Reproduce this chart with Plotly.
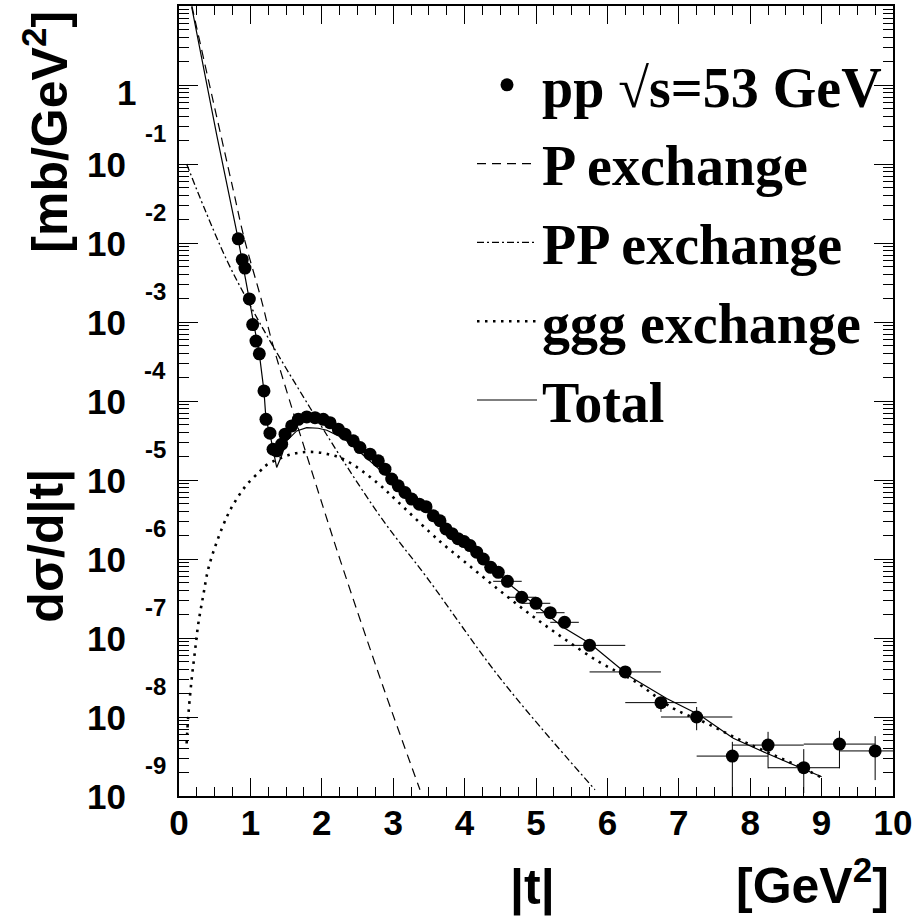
import plotly.graph_objects as go

# ---------------- data ----------------
t_data = [0.83, 0.886, 0.924, 0.985, 1.032, 1.078, 1.125, 1.19, 1.218, 1.274, 1.317, 1.368,
          1.438, 1.485, 1.578, 1.671, 1.789, 1.905, 2.021, 2.115, 2.231, 2.325, 2.441, 2.535,
          2.675, 2.791, 2.885, 2.979, 3.071, 3.165, 3.259, 3.366, 3.459, 3.562, 3.655, 3.739,
          3.824, 3.908, 3.992, 4.076, 4.169, 4.262, 4.366, 4.472, 4.6, 4.8, 5.0, 5.2, 5.4,
          5.75, 6.25, 6.75, 7.25, 7.75, 8.25, 8.75, 9.25, 9.75]
dsdt_data = [1.13e-2, 6.15e-3, 4.82e-3, 1.96e-3, 9.29e-4, 5.73e-4, 3.95e-4, 1.34e-4, 5.87e-5,
             3.91e-5, 2.45e-5, 2.34e-5, 2.84e-5, 3.8e-5, 4.83e-5, 5.87e-5, 6.28e-5, 6.15e-5,
             5.87e-5, 5.32e-5, 4.4e-5, 3.8e-5, 3.13e-5, 2.57e-5, 2.12e-5, 1.75e-5, 1.37e-5,
             1.03e-5, 8.45e-6, 6.95e-6, 5.74e-6, 4.95e-6, 4.59e-6, 3.53e-6, 3.05e-6, 2.4e-6,
             2.09e-6, 1.81e-6, 1.66e-6, 1.48e-6, 1.22e-6, 1.0e-6, 7.85e-7, 6.79e-7, 5.22e-7,
             3.28e-7, 2.75e-7, 2.09e-7, 1.58e-7, 8.07e-8, 3.72e-8, 1.52e-8, 1.0e-8, 3.2e-9,
             4.41e-9, 2.28e-9, 4.54e-9, 3.72e-9]
t_err = [0.0] * 44 + [0.2] * 5 + [0.5] * 9
# upper / lower bounds of the vertical error bars of the last 8 points
tail_hi = [4.37e-8, 1.79e-8, 1.34e-8, 4.85e-9, 6.49e-9, 3.92e-9, 6.68e-9, 5.73e-9]
tail_lo = [3.16e-8, 1.16e-8, 6.8e-9, 5.0e-10, 2.24e-9, 1.09e-9, 2.24e-9, 1.59e-9]

t_P = [0.18, 0.48, 0.76, 0.915, 1.15, 1.30, 1.58, 1.74, 2.02, 2.26, 2.86, 3.375]
y_P = [10.0, 0.617, 0.0468, 0.0113, 1.96e-3, 5.73e-4, 8.22e-5, 2.84e-5, 4.5e-6, 9.55e-7,
       2.4e-8, 1.2e-9]

t_PP = [0.107, 0.364, 0.677, 0.948, 1.275, 1.835, 2.30, 2.861, 3.469, 4.52, 5.826]
y_PP = [0.1, 2.63e-2, 5.86e-3, 1.96e-3, 5.73e-4, 8.22e-5, 1.75e-5, 3.05e-6, 5.87e-7,
        2.92e-8, 1.2e-9]

t_ggg = [0.107, 0.13, 0.178, 0.224, 0.27, 0.34, 0.41, 0.528, 0.677, 0.798, 0.948, 1.134,
         1.228, 1.578, 1.835, 2.09, 2.349, 2.769, 3.05, 3.515, 3.749, 3.98, 4.45, 4.916,
         5.38, 5.896, 6.36, 6.92, 7.39, 7.857, 8.323, 8.697, 8.98]
y_ggg = [4.62e-9, 1.03e-8, 3.06e-8, 6.84e-8, 1.51e-7, 3.47e-7, 7.5e-7, 1.63e-6, 3.53e-6,
         5.57e-6, 8.71e-6, 1.29e-5, 1.55e-5, 2.12e-5, 2.27e-5, 2.12e-5, 1.75e-5, 9.33e-6,
         5.46e-6, 2.17e-6, 1.41e-6, 9.55e-7, 4.27e-7, 2.0e-7, 1.0e-7, 4.9e-8, 2.92e-8,
         1.29e-8, 8.32e-9, 5.13e-9, 3.31e-9, 2.34e-9, 1.75e-9]

t_tot = [0.178, 0.528, 0.817, 0.985, 1.125, 1.19, 1.218, 1.274, 1.335, 1.368, 1.438, 1.508,
         1.648, 1.789, 1.95, 2.07, 2.3, 2.5, 3.0, 3.5, 4.0, 4.5, 4.68, 5.38, 5.756, 6.32,
         6.83, 7.297, 7.763, 8.23, 9.0]
y_tot = [9.7, 0.233, 1.27e-2, 1.96e-3, 3.95e-4, 1.34e-4, 5.87e-5, 3.8e-5, 2.14e-5, 1.44e-5,
         2.04e-5, 3.13e-5, 4.18e-5, 4.6e-5, 4.52e-5, 4.27e-5, 3.39e-5, 2.4e-5, 9.55e-6,
         3.98e-6, 1.55e-6, 6.17e-7, 4.4e-7, 1.37e-7, 8.51e-8, 3.24e-8, 1.71e-8, 1.05e-8,
         5.37e-9, 3.47e-9, 1.75e-9]

legend_names = ["pp \u221as=53 GeV", "P exchange", "PP exchange", "ggg exchange", "Total"]
x_ticks = list(range(0, 11))
y_tick_exps = [-9, -8, -7, -6, -5, -4, -3, -2, -1]

# ---------------- error bar sizes ----------------
n = len(dsdt_data)
err_plus = [0.0] * n
err_minus = [0.0] * n
for k, (hi, lo) in enumerate(zip(tail_hi, tail_lo)):
    i = n - len(tail_hi) + k
    err_plus[i] = hi - dsdt_data[i]
    err_minus[i] = dsdt_data[i] - lo

SANS = "Liberation Sans, Arial, Helvetica, sans-serif"
SERIF = "Liberation Serif, Times New Roman, serif"

fig = go.Figure()
line_w = 1.2
fig.add_trace(go.Scatter(x=t_P, y=y_P, mode="lines", name=legend_names[1],
                         line=dict(color="black", width=line_w, dash="9px,6px", shape="spline"),
                         legendgroup="b", legendrank=2))
fig.add_trace(go.Scatter(x=t_PP, y=y_PP, mode="lines", name=legend_names[2],
                         line=dict(color="black", width=1.3, dash="7px,3px,2px,3px", shape="spline"),
                         legendgroup="c", legendrank=3))
fig.add_trace(go.Scatter(x=t_ggg, y=y_ggg, mode="lines", name=legend_names[3],
                         line=dict(color="black", width=2.6, dash="2.5px,5.5px", shape="spline"),
                         legendgroup="d", legendrank=4))
fig.add_trace(go.Scatter(x=t_tot, y=y_tot, mode="lines", name=legend_names[4],
                         line=dict(color="black", width=line_w),
                         legendgroup="e", legendrank=5))
fig.add_trace(go.Scatter(x=t_data, y=dsdt_data, mode="markers", name=legend_names[0],
                         marker=dict(color="black", size=13, symbol="circle"),
                         error_x=dict(type="data", array=t_err, color="black", thickness=1, width=0),
                         error_y=dict(type="data", symmetric=False, array=err_plus,
                                      arrayminus=err_minus, color="black", thickness=1, width=0),
                         legendgroup="a", legendrank=1))

axis_common = dict(showline=True, linecolor="black", linewidth=2, mirror="allticks",
                   ticks="inside", tickcolor="black", tickwidth=1, showgrid=False,
                   zeroline=False)

fig.update_xaxes(range=[0, 10], tickvals=x_ticks, ticktext=[str(v) for v in x_ticks],
                 ticklen=18, tickfont=dict(family=SANS, size=35, color="black", weight="bold"),
                 ticklabelstandoff=-5,
                 minor=dict(dtick=0.25, ticklen=9, ticks="inside", tickcolor="black", tickwidth=1),
                 **axis_common)
fig.update_yaxes(type="log", range=[-9, 1], dtick=1, ticklen=19, showticklabels=False,
                 minor=dict(dtick="D1", ticklen=10, ticks="inside", tickcolor="black", tickwidth=1),
                 **axis_common)

PLOT_L, PLOT_R, PLOT_T, PLOT_B = 179, 893, 4, 796
W = PLOT_R - PLOT_L
H = PLOT_B - PLOT_T

def px_x(px):
    return (px - PLOT_L) / W

def px_y(py):
    return (PLOT_B - py) / H

annotations = []
for e in y_tick_exps:
    annotations.append(dict(text="10", xref="paper", yref="y", x=px_x(128), y=e,
                            xanchor="right", yanchor="middle", showarrow=False,
                            font=dict(family=SANS, size=35, color="black", weight="bold")))
    annotations.append(dict(text=str(e), xref="paper", yref="y", x=px_x(168), y=e,
                            xanchor="right", yanchor="middle", yshift=31, showarrow=False,
                            font=dict(family=SANS, size=24, color="black", weight="bold")))
annotations.append(dict(text="1", xref="paper", yref="y", x=px_x(138), y=0,
                        xanchor="right", yanchor="middle", yshift=-7, showarrow=False,
                        font=dict(family=SANS, size=35, color="black", weight="bold")))

title_font = dict(family=SANS, size=50, color="black", weight="bold")
annotations += [
    dict(text="[mb/GeV<sup>2</sup>]", xref="paper", yref="paper", x=px_x(46), y=px_y(130),
         textangle=-90, xanchor="center", yanchor="middle", showarrow=False, font=title_font),
    dict(text="d\u03c3/d|t|", xref="paper", yref="paper", x=px_x(47), y=px_y(545),
         textangle=-90, xanchor="center", yanchor="middle", showarrow=False, font=title_font),
    dict(text="|t|", xref="paper", yref="paper", x=px_x(532), y=px_y(888),
         xanchor="center", yanchor="middle", showarrow=False, font=title_font),
    dict(text="[GeV<sup>2</sup>]", xref="paper", yref="paper", x=px_x(891), y=px_y(882),
         xanchor="right", yanchor="middle", showarrow=False, font=title_font),
]

fig.update_layout(
    width=917, height=920,
    margin=dict(l=PLOT_L, r=917 - PLOT_R, t=PLOT_T, b=920 - PLOT_B),
    paper_bgcolor="white", plot_bgcolor="white",
    showlegend=True,
    legend=dict(x=px_x(472), y=px_y(40), xanchor="left", yanchor="top",
                bgcolor="rgba(0,0,0,0)", borderwidth=0, traceorder="grouped",
                tracegroupgap=3, itemwidth=60,
                font=dict(family=SERIF, size=56, color="black", weight="bold")),
    annotations=annotations,
)

fig.write_html("out.html")
